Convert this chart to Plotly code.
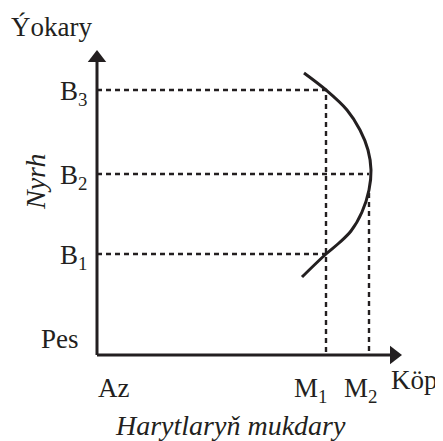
import plotly.graph_objects as go

# price levels (B1, B2, B3) and quantities (M1, M2), schematic units
price_labels = ["B<sub>1</sub>", "B<sub>2</sub>", "B<sub>3</sub>"]
price_levels = [1.01, 1.81, 2.65]
qty_labels = ["M<sub>1</sub>", "M<sub>2</sub>"]
qty_levels = [2.29, 2.72]

# curve (quantity, price)
curve_q = [2.07, 2.29, 2.50, 2.63, 2.71, 2.74, 2.72, 2.65, 2.54, 2.42, 2.29, 2.05]
curve_p = [2.82, 2.65, 2.45, 2.25, 2.05, 1.85, 1.65, 1.43, 1.24, 1.12, 1.01, 0.78]

axis_end = 3.05
FONT = "Liberation Serif"
fs = 27
ink = "#231f20"

fig = go.Figure()

# dotted guide lines
gx, gy = [], []
gx += [0, qty_levels[0], qty_levels[0], None]
gy += [price_levels[2], price_levels[2], 0, None]
gx += [0, qty_levels[1], None, qty_levels[1], qty_levels[1], None]
gy += [price_levels[1], price_levels[1], None, 1.62, 0, None]
gx += [0, qty_levels[0]]
gy += [price_levels[0], price_levels[0]]
fig.add_trace(go.Scatter(x=gx, y=gy, mode="lines",
                         line=dict(color=ink, width=2.4, dash="5px,4px")))

# the curve
fig.add_trace(go.Scatter(x=curve_q, y=curve_p, mode="lines",
                         line=dict(color=ink, width=3, shape="spline")))

# axes
fig.add_trace(go.Scatter(x=[0, 0, None, 0, axis_end - 0.1], y=[axis_end - 0.1, 0, None, 0, 0],
                         mode="lines", line=dict(color=ink, width=3)))
fig.add_trace(go.Scatter(x=[0, axis_end - 0.08], y=[axis_end - 0.08, 0], mode="markers",
                         marker=dict(symbol=["triangle-up", "triangle-right"], size=16,
                                     color=ink)))

def txt(x, y, s, xa="center", ya="middle", italic=False, angle=0, size=fs):
    fig.add_annotation(x=x, y=y, text=s, showarrow=False, xanchor=xa, yanchor=ya,
                       textangle=angle,
                       font=dict(family=FONT, size=size, color=ink,
                                 style="italic" if italic else "normal"))

txt(-0.88, 3.28, "Ýokary", xa="left")
for lab, lev in zip(price_labels, price_levels):
    txt(-0.08, lev - 0.03, lab, xa="right")
txt(-0.62, 1.73, "Nyrh", italic=True, angle=-90, size=28)
txt(-0.16, 0.16, "Pes", xa="right")
txt(-0.01, -0.33, "Az", xa="left")
for lab, q in zip(qty_labels, [1.95, 2.45]):
    txt(q, -0.35, lab, xa="left")
txt(2.92, -0.25, "Köp", xa="left")
txt(1.33, -0.70, "Harytlaryň mukdary", italic=True, size=28)

# the page draws the figure 8px in from the corner, so shift the ranges
fig.update_layout(
    width=443, height=441,
    margin=dict(l=0, r=0, t=0, b=0),
    paper_bgcolor="white", plot_bgcolor="white",
    showlegend=False,
    xaxis=dict(range=[-0.89, 3.54], visible=False, fixedrange=True),
    yaxis=dict(range=[-0.94, 3.47], visible=False, fixedrange=True),
)

fig.write_html("out.html")
